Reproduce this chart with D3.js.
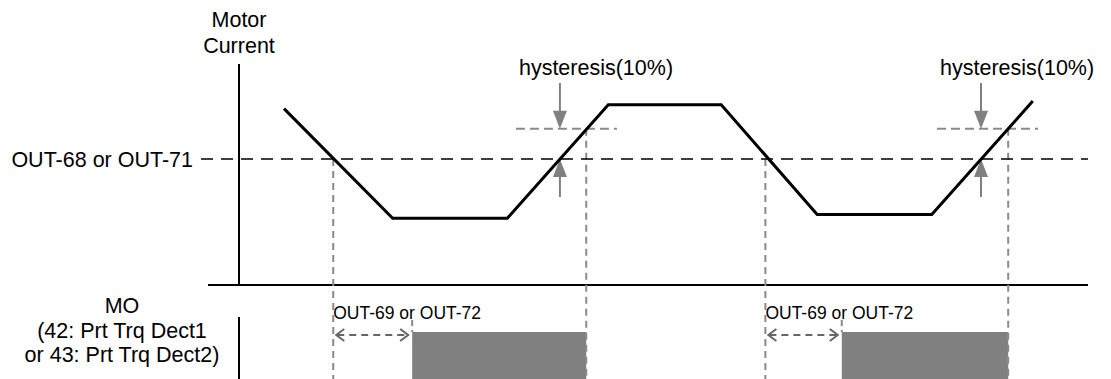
<!DOCTYPE html>
<html><head><meta charset="utf-8">
<script src="https://cdn.jsdelivr.net/npm/d3@7"></script>
<style>
html,body{margin:0;padding:0;background:#fff;}
svg{display:block;font-family:"Liberation Sans",Arial,sans-serif;}
</style></head>
<body>
<svg id="c" width="1111" height="379"></svg>
<script>
// ---- data (time in arbitrary units 0..100, current in % of scale) ----
const curveTime    = [5.3, 18.1, 31.6, 43.5, 56.8, 68.1, 81.6, 93.5];
const curveCurrent = [70, 26.5, 26.5, 71.5, 71.5, 28, 28, 73];
const threshold = 50;           // OUT-68 or OUT-71 level
const hysteresisLevel = 62;     // threshold + hysteresis(10%)
const crossDown = [11.1, 62.0]; // current falls below threshold
const crossUp   = [37.8, 87.4]; // current reaches threshold
const releaseAt = [40.9, 90.6]; // current reaches threshold + hysteresis
const moOnStart = [20.4, 71.0]; // MO output turns on after OUT-69/OUT-72 delay
const labels = {
  yTitle: ["Motor", "Current"],
  threshold: "OUT-68 or OUT-71",
  hyst: "hysteresis(10%)",
  delay: "OUT-69 or OUT-72",
  mo: ["MO", "(42: Prt Trq Dect1", "or 43: Prt Trq Dect2)"]
};

// ---- scales ----
const svg = d3.select("#c");
const x = d3.scaleLinear().domain([0, 100]).range([239, 1088]);
const y = d3.scaleLinear().domain([0, 100]).range([285, 33]);
const font = 21.5;
const gray = "#8a8a8a";

// defs: arrow heads
const defs = svg.append("defs");

// axes
svg.append("line").attr("x1", x(0)).attr("x2", x(0)).attr("y1", 64).attr("y2", y(0))
  .attr("stroke", "#000").attr("stroke-width", 2);
svg.append("line").attr("x1", 208).attr("x2", x(100)).attr("y1", y(0)).attr("y2", y(0))
  .attr("stroke", "#000").attr("stroke-width", 2);
svg.append("line").attr("x1", x(0)).attr("x2", x(0)).attr("y1", 317).attr("y2", 379)
  .attr("stroke", "#000").attr("stroke-width", 2);

// MO rectangles
svg.selectAll("rect.mo").data(moOnStart).join("rect").attr("class", "mo")
  .attr("x", d => x(d)).attr("y", 332)
  .attr("width", (d, i) => x(releaseAt[i]) - x(d)).attr("height", 379 - 332)
  .attr("fill", "#808080");

// gray dashed verticals
crossDown.forEach(t => {
  svg.append("line").attr("x1", x(t)).attr("x2", x(t)).attr("y1", y(threshold)).attr("y2", 379)
    .attr("stroke", gray).attr("stroke-width", 2).attr("stroke-dasharray", "7,5");
});
releaseAt.forEach(t => {
  svg.append("line").attr("x1", x(t)).attr("x2", x(t)).attr("y1", y(hysteresisLevel)).attr("y2", 379)
    .attr("stroke", gray).attr("stroke-width", 2).attr("stroke-dasharray", "7,5");
});
moOnStart.forEach(t => {
  svg.append("line").attr("x1", x(t)).attr("x2", x(t)).attr("y1", 320).attr("y2", 332)
    .attr("stroke", gray).attr("stroke-width", 2).attr("stroke-dasharray", "6,4");
});

// hysteresis horizontal dashed segments
crossUp.forEach(t => {
  svg.append("line").attr("x1", x(t) - 44).attr("x2", x(t) + 57)
    .attr("y1", y(hysteresisLevel)).attr("y2", y(hysteresisLevel))
    .attr("stroke", gray).attr("stroke-width", 2).attr("stroke-dasharray", "9,5");
});

// threshold dashed line
svg.append("line").attr("x1", 201).attr("x2", x(100)).attr("y1", y(threshold)).attr("y2", y(threshold))
  .attr("stroke", "#000").attr("stroke-width", 1.6).attr("stroke-dasharray", "12,8");

// hysteresis arrows
crossUp.forEach(t => {
  const cx = x(t);
  const yh = y(hysteresisLevel), yt = y(threshold);
  // down arrow
  svg.append("line").attr("x1", cx).attr("x2", cx).attr("y1", 83).attr("y2", yh - 14)
    .attr("stroke", "#808080").attr("stroke-width", 2);
  svg.append("path").attr("d", `M${cx - 7},${yh - 18} L${cx + 7},${yh - 18} L${cx},${yh} Z`)
    .attr("fill", "#808080");
  // up arrow
  svg.append("line").attr("x1", cx).attr("x2", cx).attr("y1", yt + 14).attr("y2", 197)
    .attr("stroke", "#808080").attr("stroke-width", 2);
  svg.append("path").attr("d", `M${cx - 7},${yt + 18} L${cx + 7},${yt + 18} L${cx},${yt} Z`)
    .attr("fill", "#808080");
  svg.append("text").attr("x", cx - 41).attr("y", 75).attr("font-size", font)
    .attr("fill", "#000").text(labels.hyst);
});

// motor current curve
const pts = curveTime.map((t, i) => [t, curveCurrent[i]]);
svg.append("path").datum(pts)
  .attr("d", d3.line().x(d => x(d[0])).y(d => y(d[1])))
  .attr("fill", "none").attr("stroke", "#000").attr("stroke-width", 3)
  .attr("stroke-linejoin", "miter");

// delay double arrows + labels
crossDown.forEach((t, i) => {
  const x1 = x(t) + 3, x2 = x(moOnStart[i]) - 4, ya = 335;
  svg.append("line").attr("x1", x1 + 1).attr("x2", x2 - 1).attr("y1", ya).attr("y2", ya)
    .attr("stroke", "#666").attr("stroke-width", 2).attr("stroke-dasharray", "7,5");
  svg.append("path").attr("d", `M${x1 + 8},${ya - 6} L${x1},${ya} L${x1 + 8},${ya + 6}`)
    .attr("fill", "none").attr("stroke", "#666").attr("stroke-width", 2);
  svg.append("path").attr("d", `M${x2 - 8},${ya - 6} L${x2},${ya} L${x2 - 8},${ya + 6}`)
    .attr("fill", "none").attr("stroke", "#666").attr("stroke-width", 2);
  svg.append("text").attr("x", x(t)).attr("y", 319).attr("font-size", 17.5)
    .attr("fill", "#000").text(labels.delay);
});

// y title
svg.append("text").attr("x", x(0)).attr("y", 27).attr("text-anchor", "middle")
  .attr("font-size", font).text(labels.yTitle[0]);
svg.append("text").attr("x", x(0)).attr("y", 53).attr("text-anchor", "middle")
  .attr("font-size", font).text(labels.yTitle[1]);

// threshold label
svg.append("text").attr("x", 193).attr("y", 167).attr("text-anchor", "end")
  .attr("font-size", font).text(labels.threshold);

// MO label
labels.mo.forEach((s, i) => {
  svg.append("text").attr("x", 122).attr("y", 313 + i * 24.5).attr("text-anchor", "middle")
    .attr("font-size", font).text(s);
});
</script>
</body></html>
